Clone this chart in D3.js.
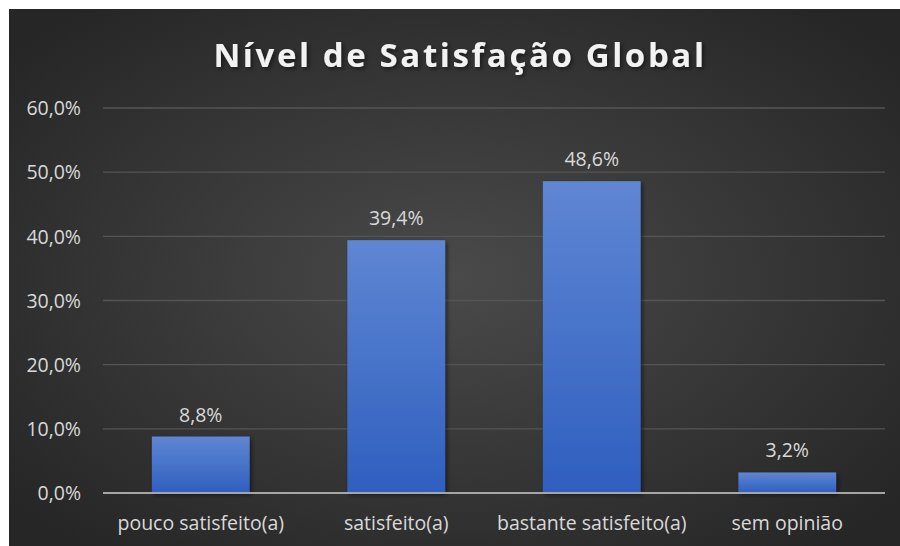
<!DOCTYPE html>
<html><head><meta charset="utf-8">
<script src="https://cdn.jsdelivr.net/npm/d3@7"></script>
<style>body{margin:0;background:#fff;}svg{display:block;}</style>
</head><body>
<svg id="c" width="900" height="546"></svg>
<script>
const categories = ["pouco satisfeito(a)", "satisfeito(a)", "bastante satisfeito(a)", "sem opinião"];
const values = [8.8, 39.4, 48.6, 3.2];
const valueLabels = ["8,8%", "39,4%", "48,6%", "3,2%"];
const yTicks = [0, 10, 20, 30, 40, 50, 60];
const yTickLabels = ["0,0%", "10,0%", "20,0%", "30,0%", "40,0%", "50,0%", "60,0%"];
const chartTitle = "Nível de Satisfação Global";

const svg = d3.select("#c");
const defs = svg.append("defs");
const bg = defs.append("radialGradient").attr("id","bg").attr("cx","50%").attr("cy","50%").attr("r","65%");
bg.append("stop").attr("offset","0%").attr("stop-color","#4a4a4a");
bg.append("stop").attr("offset","100%").attr("stop-color","#262626");
const bar = defs.append("linearGradient").attr("id","bar").attr("x1",0).attr("y1",0).attr("x2",0).attr("y2",1);
bar.append("stop").attr("offset","0%").attr("stop-color","#5f86d3");
bar.append("stop").attr("offset","100%").attr("stop-color","#2f5fbf");
const sh = defs.append("filter").attr("id","sh").attr("x","-20%").attr("y","-20%").attr("width","140%").attr("height","140%");
sh.append("feDropShadow").attr("dx",2).attr("dy",2).attr("stdDeviation",2).attr("flood-color","#000").attr("flood-opacity",0.5);

svg.append("rect").attr("x",9).attr("y",9).attr("width",891).attr("height",537).attr("fill","url(#bg)");

const pL = 103, pR = 885, pT = 108, pB = 493;
const x = d3.scaleBand().domain(categories).range([pL, pR]).paddingInner(0.5).paddingOuter(0.25);
const y = d3.scaleLinear().domain([0, 60]).range([pB, pT]);
const font = "'Open Sans', sans-serif";
const fs = 19.5;

// gridlines
svg.append("g").selectAll("line").data(yTicks.filter(d=>d>0)).join("line")
  .attr("x1",pL).attr("x2",pR).attr("y1",d=>y(d)).attr("y2",d=>y(d))
  .attr("stroke","#555555").attr("stroke-width",1.3);

// y axis labels via axis
const yAxis = d3.axisLeft(y).tickValues(yTicks).tickFormat((d,i)=>yTickLabels[i]).tickSize(0).tickPadding(0);
const ya = svg.append("g").attr("transform",`translate(81,0)`).call(yAxis);
ya.select(".domain").remove();
ya.selectAll("text").attr("fill","#d9d9d9").attr("font-family",font).attr("font-size",fs).attr("dy","0.35em");

// bars
svg.append("g").selectAll("rect").data(values).join("rect")
  .attr("x",(d,i)=>x(categories[i])).attr("width",x.bandwidth())
  .attr("y",d=>y(d)).attr("height",d=>y(0)-y(d))
  .attr("fill","url(#bar)").attr("filter","url(#sh)");

// baseline
svg.append("line").attr("x1",pL).attr("x2",pR).attr("y1",y(0)).attr("y2",y(0))
  .attr("stroke","#a6a6a6").attr("stroke-width",2.2);

// value labels
svg.append("g").selectAll("text").data(values).join("text")
  .attr("x",(d,i)=>x(categories[i])+x.bandwidth()/2).attr("y",d=>y(d)-15)
  .attr("text-anchor","middle").attr("fill","#d9d9d9")
  .attr("font-family",font).attr("font-size",fs)
  .text((d,i)=>valueLabels[i]);

// x axis
const xAxis = d3.axisBottom(x).tickSize(0).tickPadding(0);
const xa = svg.append("g").attr("transform",`translate(0,${pB})`).call(xAxis);
xa.select(".domain").remove();
xa.selectAll("text").attr("fill","#d9d9d9").attr("font-family",font).attr("font-size",fs).attr("dy","0").attr("y",37);

// title
svg.append("text").attr("x",460).attr("y",67).attr("text-anchor","middle")
  .attr("fill","#f2f2f2").attr("font-family",font).attr("font-weight","bold")
  .attr("font-size",33).attr("letter-spacing","2.6px").attr("filter","url(#sh)").text(chartTitle);
</script>
</body></html>
